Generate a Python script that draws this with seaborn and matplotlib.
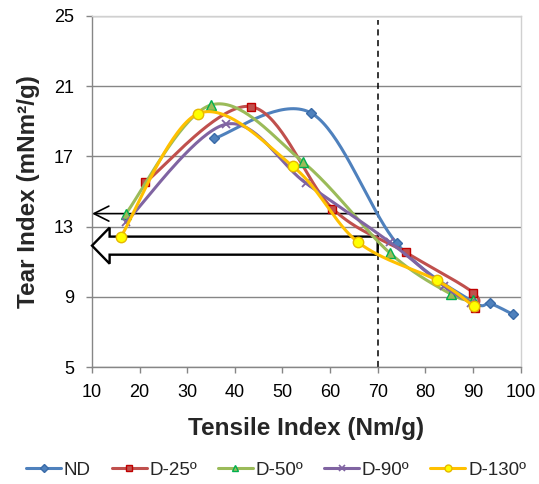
import numpy as np
import pandas as pd
import matplotlib
matplotlib.use("Agg")
import matplotlib.pyplot as plt
import seaborn as sns
from matplotlib.lines import Line2D
from matplotlib.patches import Polygon

# ---------------- data ----------------
series_names = ["ND", "D-25º", "D-50º", "D-90º", "D-130º"]
nd_x = [35.7, 56.1, 74.0, 89.8, 93.6, 98.4]
nd_y = [18.03, 19.46, 12.05, 8.75, 8.62, 8.00]
d25_x = [21.2, 43.3, 60.5, 75.9, 90.1, 90.5]
d25_y = [15.53, 19.84, 14.03, 11.53, 9.23, 8.35]
d50_x = [17.1, 35.0, 54.4, 72.5, 85.4, 90.1]
d50_y = [13.73, 19.93, 16.66, 11.51, 9.15, 8.79]
d90_x = [17.1, 38.1, 55.0, 72.6, 84.0, 89.6]
d90_y = [13.25, 18.83, 15.46, 12.10, 9.59, 8.66]
d130_x = [16.1, 32.3, 52.2, 65.8, 82.5, 90.2]
d130_y = [12.43, 19.44, 16.43, 12.13, 9.93, 8.45]

x_ticks = [10, 20, 30, 40, 50, 60, 70, 80, 90, 100]
y_ticks = [5, 9, 13, 17, 21, 25]
ref_x = 70          # dashed reference line
thin_arrow_y = 13.74
thick_arrow_y = (11.40, 12.43)

# ---------------- styles ----------------
line_colors = ["#4F81BD", "#C0504D", "#9BBB59", "#8064A2", "#FFC000"]
marker_face = ["#4F81BD", "#C0504D", "#9BBB59", "#8064A2", "#FFFF00"]
marker_edge = ["#3A6BA8", "#C00000", "#00B050", "#8064A2", "#E6B800"]
markers = ["D", "s", "^", "x", "o"]
msizes = [5.5, 6, 7, 6, 7.5]

sns.set_theme(style="white")
plt.rcParams["font.family"] = ["Liberation Sans", "DejaVu Sans"]


def smooth(xs, ys, n=40):
    P = np.column_stack([xs, ys]).astype(float)
    m = len(P)
    out = []
    t = np.linspace(0, 1, n)[:, None]
    for i in range(m - 1):
        p0 = P[i - 1] if i > 0 else P[i]
        p1, p2 = P[i], P[i + 1]
        p3 = P[i + 2] if i + 2 < m else P[i + 1]
        c1 = p1 + (p2 - p0) / 6.0
        c2 = p2 - (p3 - p1) / 6.0
        seg = (1 - t) ** 3 * p1 + 3 * (1 - t) ** 2 * t * c1 + 3 * (1 - t) * t ** 2 * c2 + t ** 3 * p2
        out.append(seg if i == 0 else seg[1:])
    return np.vstack(out)


fig = plt.figure(figsize=(5.39, 4.84), dpi=100)
ax = fig.add_axes([92 / 539, 1 - 367 / 484, (520.5 - 92) / 539, (367 - 16) / 484])

all_x = [nd_x, d25_x, d50_x, d90_x, d130_x]
all_y = [nd_y, d25_y, d50_y, d90_y, d130_y]

for i, name in enumerate(series_names):
    xs, ys = all_x[i], all_y[i]
    curve = smooth(xs, ys)
    cdf = pd.DataFrame({"x": curve[:, 0], "y": curve[:, 1]})
    sns.lineplot(data=cdf, x="x", y="y", sort=False, estimator=None, color=line_colors[i],
                 lw=2.2, ax=ax, zorder=3 + i)
    pdf = pd.DataFrame({"x": xs, "y": ys})
    if markers[i] == "x":
        ax.plot(pdf["x"], pdf["y"], ls="none", marker="x", ms=msizes[i], mew=1.3,
                color=marker_edge[i], zorder=3.5 + i)
    else:
        ax.plot(pdf["x"], pdf["y"], ls="none", marker=markers[i], ms=msizes[i], mew=1.0,
                mfc=marker_face[i], mec=marker_edge[i], zorder=3.5 + i)

# dashed vertical reference line
ax.plot([ref_x, ref_x], [5, 24.8], ls=(0, (4, 3)), color="black", lw=1.1, zorder=2.5)

# thin arrow
ax.annotate("", xy=(10, thin_arrow_y), xytext=(ref_x, thin_arrow_y),
            arrowprops=dict(arrowstyle="->,head_length=0.9,head_width=0.45", color="black", lw=1.2,
                            shrinkA=0, shrinkB=0), zorder=2.5, annotation_clip=False)

# thick block arrow (outline only)
lo, hi = thick_arrow_y
mid = (lo + hi) / 2
head_base = 13.7
head_half = 1.03
poly = [(ref_x, hi), (head_base, hi), (head_base, mid + head_half), (10, mid),
        (head_base, mid - head_half), (head_base, lo), (ref_x, lo)]
ax.add_patch(Polygon(poly, closed=True, facecolor="none", edgecolor="black", lw=1.7, zorder=2.6,
                     clip_on=False, joinstyle="miter"))

# axes styling
ax.set_xlim(10, 100)
ax.set_ylim(5, 25)
ax.set_xticks(x_ticks)
ax.set_yticks(y_ticks)
ax.set_xticklabels([str(v) for v in x_ticks])
ax.set_yticklabels([str(v) for v in y_ticks])
ax.yaxis.grid(True, color="#868686", lw=1.0)
ax.xaxis.grid(False)
ax.set_axisbelow(True)
for s in ["left", "bottom"]:
    ax.spines[s].set_color("#868686")
    ax.spines[s].set_linewidth(1.0)
for s in ["top", "right"]:
    ax.spines[s].set_color("#D0D0D0")
    ax.spines[s].set_linewidth(1.0)
ax.tick_params(axis="both", which="major", direction="out", length=4, width=1.0, color="#868686",
               labelsize=13, labelcolor="black", pad=8, bottom=True, left=True)
ax.tick_params(axis="y", pad=9)

ax.set_xlabel("Tensile Index (Nm/g)", fontsize=17.5, fontweight="bold", labelpad=12)
ax.set_ylabel("Tear Index (mNm²/g)", fontsize=17.5, fontweight="bold", labelpad=10)

handles = []
for i, name in enumerate(series_names):
    if markers[i] == "x":
        h = Line2D([], [], color=line_colors[i], lw=2.2, marker="x", ms=5, mew=1.2, mec=marker_edge[i])
    else:
        h = Line2D([], [], color=line_colors[i], lw=2.2, marker=markers[i], ms=5 if i else 4.5,
                   mfc=marker_face[i], mec=marker_edge[i])
    handles.append(h)
fig.legend(handles, series_names, loc="center left", bbox_to_anchor=(26 / 539, 1 - 470 / 484), ncol=5,
           frameon=False, fontsize=13.5, handlelength=1.87, handletextpad=0.15, columnspacing=1.1,
           borderaxespad=0, borderpad=0)

fig.savefig("out.png", dpi=100)
